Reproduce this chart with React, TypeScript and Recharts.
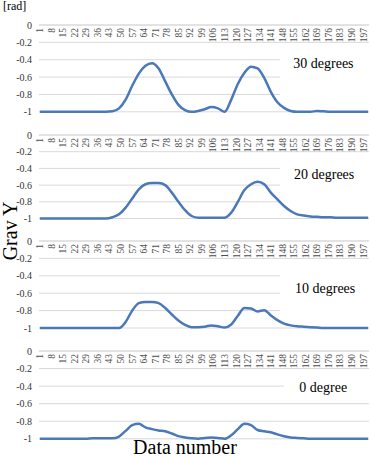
import React from "react";
import { LineChart, Line, XAxis, YAxis, CartesianGrid, ReferenceArea } from "recharts";

const dataNumber = [1,5,9,13,17,21,25,29,33,37,41,45,49,53,57,61,65,69,73,77,81,85,89,93,97,101,105,109,113,117,121,125,129,133,137,141,145,149,153,157,161,165,169,173,177,181,185,189,193,197,200];

const deg30 = [-1,-1,-1,-1,-1,-1,-1,-1,-1,-1,-1,-0.995,-0.96,-0.86,-0.7,-0.56,-0.47,-0.44,-0.5,-0.65,-0.8,-0.92,-0.98,-1,-0.99,-0.97,-0.945,-0.96,-1,-0.86,-0.68,-0.55,-0.48,-0.5,-0.61,-0.77,-0.89,-0.955,-0.99,-1,-1,-1,-0.99,-0.995,-1,-1,-1,-1,-1,-1,-1];
const deg20 = [-1,-1,-1,-1,-1,-1,-1,-1,-1,-1,-1,-0.985,-0.95,-0.87,-0.76,-0.65,-0.59,-0.575,-0.575,-0.6,-0.69,-0.8,-0.9,-0.97,-0.99,-0.99,-0.99,-0.99,-0.99,-0.93,-0.8,-0.66,-0.59,-0.56,-0.59,-0.69,-0.77,-0.85,-0.91,-0.95,-0.965,-0.975,-0.98,-0.985,-0.985,-0.99,-0.99,-0.99,-0.99,-0.99,-0.99];
const deg10 = [-1,-1,-1,-1,-1,-1,-1,-1,-1,-1,-1,-1,-1,-0.93,-0.8,-0.715,-0.7,-0.7,-0.715,-0.77,-0.845,-0.915,-0.965,-0.99,-0.99,-0.985,-0.97,-0.98,-0.995,-0.96,-0.86,-0.77,-0.775,-0.81,-0.795,-0.855,-0.91,-0.95,-0.97,-0.98,-0.985,-0.99,-0.995,-1,-1,-1,-1,-1,-1,-1,-1];
const deg0 = [-1,-1,-1,-1,-1,-1,-1,-1,-0.995,-0.995,-0.995,-0.995,-0.975,-0.91,-0.845,-0.83,-0.87,-0.89,-0.905,-0.915,-0.94,-0.97,-0.985,-0.995,-1,-0.99,-0.985,-0.99,-1,-0.96,-0.89,-0.83,-0.845,-0.9,-0.915,-0.925,-0.95,-0.97,-0.985,-0.99,-0.995,-1,-1,-1,-1,-1,-1,-1,-1,-1,-1];

const xTicks = [1,8,15,22,29,36,43,50,57,64,71,78,85,92,99,106,113,120,127,134,141,148,155,162,169,176,183,190,197];
const yTicks = [0,-0.2,-0.4,-0.6,-0.8,-1];
const panelLabels = ["30 degrees","20 degrees","10 degrees","0 degree"];

const FONT = "'Liberation Serif', 'Times New Roman', serif";
const LINE = "#4a78b8";
const GRID = "#d9d9d9";
const MT = 3;
const AXH = 1;
const MB = 8;

const fmtY = (v: number) => (v === 0 ? "0" : v === -1 ? "-1" : v.toFixed(1));

const XTick = (props: any) => {
  const { x, payload } = props;
  return (
    <text
      transform={`translate(${x},${MT + AXH + 3}) rotate(-90)`}
      textAnchor="end"
      dy="0.35em"
      fontSize={9.5}
      fontFamily={FONT}
      fill="#4d4d4d"
    >
      {payload.value}
    </text>
  );
};

type Box = { x1: number; y1: number; y2: number };

function Panel({ values, top, bottom, box }: { values: number[]; top: number; bottom: number; box: Box }) {
  const data = dataNumber.map((x, i) => ({ x, y: values[i] }));
  const h = bottom - top + MT + AXH + MB;
  return (
    <div style={{ position: "absolute", left: 0, top: top - MT - AXH }}>
      <LineChart width={371} height={h} data={data} margin={{ top: MT, right: 2, bottom: MB, left: 0 }}>
        <CartesianGrid horizontal vertical={false} stroke={GRID} />
        <XAxis
          dataKey="x"
          type="number"
          domain={[0.5, 200.5]}
          ticks={xTicks}
          interval={0}
          orientation="top"
          height={AXH}
          axisLine={{ stroke: GRID }}
          tickLine={false}
          tick={<XTick />}
        />
        <YAxis
          type="number"
          domain={[-1, 0]}
          ticks={yTicks}
          width={39}
          axisLine={false}
          tickLine={false}
          tickSize={5}
          tickMargin={2}
          tickFormatter={fmtY}
          tick={{ fontSize: 10, fontFamily: FONT, fill: "#333333" }}
          interval={0}
        />
        <ReferenceArea
          x1={box.x1}
          x2={200.5}
          y1={box.y1}
          y2={box.y2}
          fill="#ffffff"
          fillOpacity={1}
          stroke="none"
          ifOverflow="visible"
        />
        <Line
          dataKey="y"
          type="monotone"
          stroke={LINE}
          strokeWidth={2.5}
          dot={false}
          isAnimationActive={false}
        />
      </LineChart>
    </div>
  );
}

export default function App() {
  return (
    <div style={{ position: "relative", width: 371, height: 457, background: "#fff", overflow: "hidden" }}>
      <style>{`body{margin:0;background:#fff}`}</style>
      <Panel values={deg30} top={25.2} bottom={112} box={{ x1: 146.6, y1: -0.26, y2: -0.86 }} />
      <Panel values={deg20} top={135} bottom={218.5} box={{ x1: 146.6, y1: -0.26, y2: -0.89 }} />
      <Panel values={deg10} top={240.5} bottom={327.5} box={{ x1: 146.6, y1: -0.27, y2: -0.87 }} />
      <Panel values={deg0} top={351} bottom={438.8} box={{ x1: 148.9, y1: -0.3, y2: -0.52 }} />
      <svg width={371} height={457} style={{ position: "absolute", left: 0, top: 0, pointerEvents: "none" }}>
        <text x={293.3} y={67.7} fontSize={14} fontFamily={FONT} fill="#000">{panelLabels[0]}</text>
        <text x={294} y={179} fontSize={14} fontFamily={FONT} fill="#000">{panelLabels[1]}</text>
        <text x={295} y={292.7} fontSize={14} fontFamily={FONT} fill="#000">{panelLabels[2]}</text>
        <text x={299.3} y={392} fontSize={14} fontFamily={FONT} fill="#000">{panelLabels[3]}</text>
        <text x={3} y={9.5} fontSize={12} fontFamily={FONT} fill="#000">[rad]</text>
        <text transform="translate(16.5,231) rotate(-90)" textAnchor="middle" fontSize={20} fontFamily={FONT} fill="#000">Grav Y</text>
        <text x={185} y={453.5} textAnchor="middle" fontSize={20} fontFamily={FONT} fill="#000">Data number</text>
      </svg>
    </div>
  );
}
